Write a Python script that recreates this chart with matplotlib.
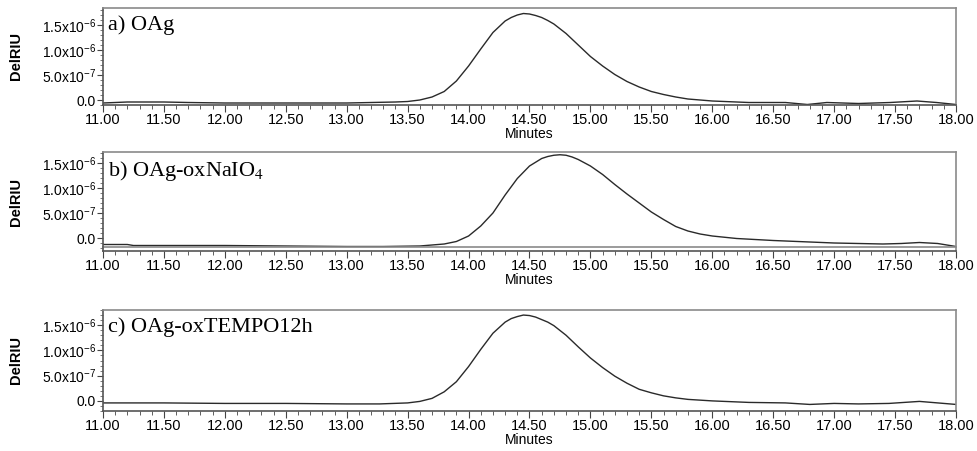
import matplotlib
matplotlib.use("Agg")
import matplotlib.pyplot as plt
from matplotlib.ticker import FixedLocator, MultipleLocator

plt.rcParams['font.family'] = ['Liberation Sans', 'DejaVu Sans']
plt.rcParams['mathtext.fontset'] = 'custom'
plt.rcParams['mathtext.rm'] = 'Liberation Sans'
plt.rcParams['mathtext.it'] = 'Liberation Sans'
plt.rcParams['mathtext.sf'] = 'Liberation Sans'

# ---- data (DelRIU in units of 1e-6) ----
t_a = [11.0, 11.2, 11.5, 11.7, 12.0, 12.5, 13.0, 13.2, 13.4, 13.5, 13.6, 13.7, 13.8, 13.9,
       14.0, 14.1, 14.2, 14.3, 14.35, 14.4, 14.45, 14.5, 14.55, 14.6, 14.65, 14.7, 14.8,
       14.9, 15.0, 15.1, 15.2, 15.3, 15.4, 15.5, 15.6, 15.7, 15.8, 16.0, 16.3, 16.6, 16.78,
       16.94, 17.2, 17.46, 17.68, 17.84, 18.0]
y_a = [-0.06, -0.04, -0.04, -0.05, -0.06, -0.06, -0.06, -0.05, -0.04, -0.03, 0.0, 0.06,
       0.17, 0.38, 0.68, 1.02, 1.35, 1.58, 1.65, 1.70, 1.73, 1.72, 1.69, 1.65, 1.59, 1.52,
       1.33, 1.10, 0.87, 0.68, 0.51, 0.37, 0.26, 0.17, 0.11, 0.06, 0.02, -0.02, -0.05, -0.05,
       -0.09, -0.05, -0.07, -0.05, -0.02, -0.05, -0.09]

t_b = [11.0, 11.2, 11.25, 11.6, 12.0, 12.5, 13.0, 13.3, 13.6, 13.8, 13.9, 14.0, 14.1, 14.2,
       14.3, 14.4, 14.5, 14.6, 14.65, 14.7, 14.75, 14.8, 14.85, 14.9, 15.0, 15.1, 15.2, 15.3,
       15.4, 15.5, 15.6, 15.7, 15.8, 15.9, 16.0, 16.2, 16.5, 16.8, 17.0, 17.2, 17.4, 17.55,
       17.7, 17.85, 18.0]
y_b = [-0.13, -0.13, -0.15, -0.15, -0.15, -0.16, -0.17, -0.17, -0.16, -0.12, -0.07, 0.04,
       0.24, 0.50, 0.86, 1.19, 1.44, 1.59, 1.63, 1.655, 1.665, 1.655, 1.62, 1.57, 1.44,
       1.27, 1.07, 0.88, 0.70, 0.52, 0.37, 0.23, 0.14, 0.08, 0.04, -0.01, -0.05, -0.08,
       -0.10, -0.11, -0.12, -0.11, -0.09, -0.11, -0.17]

t_c = [11.0, 11.5, 12.0, 12.5, 13.0, 13.27, 13.5, 13.6, 13.7, 13.8, 13.9, 14.0, 14.1, 14.2,
       14.3, 14.35, 14.4, 14.45, 14.5, 14.55, 14.6, 14.65, 14.7, 14.8, 14.9, 15.0, 15.1,
       15.2, 15.3, 15.4, 15.5, 15.6, 15.7, 15.8, 16.0, 16.3, 16.6, 16.8, 17.0, 17.2, 17.45,
       17.7, 17.85, 18.0]
y_c = [-0.04, -0.04, -0.05, -0.05, -0.06, -0.06, -0.04, -0.01, 0.05, 0.18, 0.38, 0.68,
       1.02, 1.34, 1.56, 1.63, 1.67, 1.70, 1.69, 1.66, 1.61, 1.56, 1.49, 1.30, 1.07, 0.85,
       0.66, 0.49, 0.35, 0.23, 0.16, 0.10, 0.06, 0.03, 0.0, -0.03, -0.04, -0.07, -0.05,
       -0.06, -0.05, -0.01, -0.04, -0.07]

panel_titles = ['a) OAg', 'b) OAg-oxNaIO$_4$', 'c) OAg-oxTEMPO12h']
x_ticks = [11.0, 11.5, 12.0, 12.5, 13.0, 13.5, 14.0, 14.5, 15.0, 15.5, 16.0, 16.5, 17.0, 17.5, 18.0]
x_ticklabels = ['%.2f' % v for v in x_ticks]
y_ticks = [0.0, 0.5, 1.0, 1.5]
y_ticklabels = ['0.0', r'5.0x10$^{-7}$', r'1.0x10$^{-6}$', r'1.5x10$^{-6}$']

W, H = 977, 451
fig = plt.figure(figsize=(W / 100, H / 100), dpi=100)

boxes = [((8, 105), (-0.10, 1.84)),
         ((152, 251), (-0.26, 1.72)),
         ((310, 411), (-0.20, 1.80))]
left, right = 103, 956
series = [(t_a, y_a), (t_b, y_b), (t_c, y_c)]
frame_col = '#8a8a8a'

for i, (((top, bot), ylim), (t, y), title) in enumerate(zip(boxes, series, panel_titles)):
    ax = fig.add_axes([left / W, 1 - bot / H, (right - left) / W, (bot - top) / H])
    ax.plot(t, y, color='#2a2a2a', lw=1.0)
    ax.set_xlim(11.0, 18.0)
    ax.set_ylim(*ylim)
    for s in ax.spines.values():
        s.set_color(frame_col)
        s.set_linewidth(1.2)
    ax.spines['left'].set_color('#555555')
    ax.spines['bottom'].set_color('#555555')
    ax.xaxis.set_major_locator(FixedLocator(x_ticks))
    ax.set_xticklabels(x_ticklabels)
    ax.xaxis.set_minor_locator(MultipleLocator(0.1))
    ax.yaxis.set_major_locator(FixedLocator(y_ticks))
    ax.set_yticklabels(y_ticklabels)
    ax.yaxis.set_minor_locator(MultipleLocator(0.1))
    ax.tick_params(axis='x', which='major', length=5, width=0.8, color='#444444',
                   labelsize=10.5, pad=1, direction='out')
    ax.tick_params(axis='x', which='minor', length=3, width=0.6, color='#444444', direction='out')
    ax.tick_params(axis='y', which='major', length=4, width=0.8, color='#444444',
                   labelsize=10, pad=1, direction='out')
    ax.tick_params(axis='y', which='minor', length=2, width=0.5, color='#444444', direction='out')
    ax.set_xlabel('Minutes', fontsize=10, labelpad=0)
    ax.set_ylabel('DelRIU', fontsize=10.5, fontweight='bold')
    ax.yaxis.set_label_coords(-80 / (right - left), 0.5)
    ax.text(0.006, 0.93, title, transform=ax.transAxes, fontsize=16,
            family='Liberation Serif', va='top', ha='left',
            math_fontfamily='stix')
    if i == 1:
        ax.plot([0, 1], [4 / (bot - top)] * 2, transform=ax.transAxes,
                color=frame_col, lw=1.2, clip_on=False)

fig.savefig('out.png', dpi=100)
